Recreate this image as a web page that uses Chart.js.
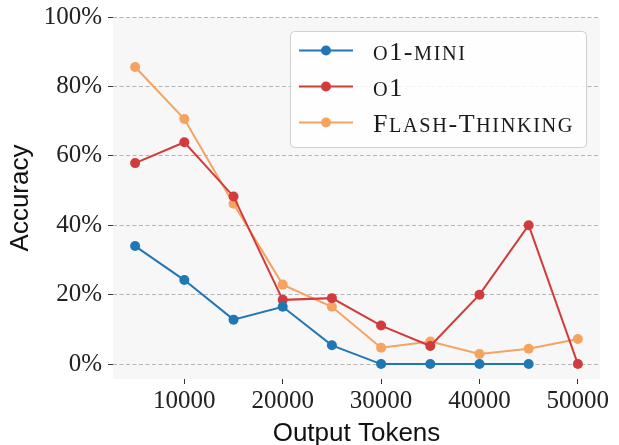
<!DOCTYPE html>
<html>
<head>
<meta charset="utf-8">
<script src="https://cdn.jsdelivr.net/npm/chart.js@4/dist/chart.umd.min.js"></script>
<style>
html,body{margin:0;padding:0;background:#fff;}
#c{display:block;}
</style>
</head>
<body>
<canvas id="c" width="619" height="445"></canvas>
<script>
const tokens = [5000, 10000, 15000, 20000, 25000, 30000, 35000, 40000, 45000, 50000];
const o1mini = [34.0, 24.2, 12.8, 16.5, 5.4, 0, 0, 0, 0];
const o1 = [57.9, 63.9, 48.3, 18.5, 19.0, 11.1, 5.2, 20.0, 40.0, 0];
const flash = [85.6, 70.6, 46.2, 22.9, 16.5, 4.7, 6.5, 2.9, 4.4, 7.2];
const seriesNames = ['o1-mini', 'o1', 'Flash-Thinking'];
const yTicks = [0, 20, 40, 60, 80, 100];
const xTicks = [10000, 20000, 30000, 40000, 50000];

const colors = ['#1f77b4', '#d13b3b', '#f4a460'];

function pts(arr){ return arr.map((v,i)=>({x:tokens[i], y:v})); }

const bgPlugin = {
  id:'bg',
  beforeDraw(chart){
    const {ctx, chartArea:a} = chart;
    ctx.save();
    ctx.fillStyle = '#f7f7f7';
    ctx.fillRect(a.left, a.top, a.right-a.left, a.bottom-a.top);
    ctx.restore();
  }
};

function drawSC(ctx, text, x, y, size, ratio, spacing){
  let cx = x;
  for (const ch of text){
    const isLower = ch !== ch.toUpperCase();
    const s = isLower ? size*ratio : size;
    ctx.font = s + 'px "Liberation Serif"';
    const c = isLower ? ch.toUpperCase() : ch;
    ctx.fillText(c, cx, y);
    cx += ctx.measureText(c).width + spacing;
  }
  return cx - x;
}

const legendPlugin = {
  id:'customLegend',
  afterDraw(chart){
    const ctx = chart.ctx;
    const bx = 290, by = 31, bw = 296, bh = 116, r = 4;
    ctx.save();
    ctx.beginPath();
    ctx.roundRect(bx+0.5, by+0.5, bw, bh, r);
    ctx.fillStyle = 'rgba(255,255,255,0.85)';
    ctx.fill();
    ctx.strokeStyle = '#d0d0d0';
    ctx.lineWidth = 1;
    ctx.stroke();
    const rows = [50.5, 86.5, 122.5];
    chart.data.datasets.forEach((ds, i) => {
      const yy = rows[i];
      ctx.strokeStyle = ds.borderColor;
      ctx.lineWidth = 2;
      ctx.beginPath();
      ctx.moveTo(299, yy); ctx.lineTo(353, yy);
      ctx.stroke();
      ctx.fillStyle = ds.borderColor;
      ctx.beginPath();
      ctx.arc(326, yy, 5, 0, Math.PI*2);
      ctx.fill();
      ctx.fillStyle = '#1a1a1a';
      ctx.textBaseline = 'alphabetic';
      ctx.textAlign = 'left';
      drawSC(ctx, ds.label, 373, yy+9, 26, 0.78, 1.6);
    });
    ctx.restore();
  }
};

new Chart(document.getElementById('c'), {
  type:'line',
  data:{
    datasets:[
      {label:seriesNames[0], data:pts(o1mini), borderColor:colors[0], backgroundColor:colors[0]},
      {label:seriesNames[1], data:pts(o1), borderColor:colors[1], backgroundColor:colors[1]},
      {label:seriesNames[2], data:pts(flash), borderColor:colors[2], backgroundColor:colors[2]}
    ]
  },
  options:{
    responsive:false,
    animation:false,
    devicePixelRatio:1,
    layout:{padding:{top:17, right:19, left:0, bottom:0}},
    elements:{
      line:{borderWidth:2, tension:0},
      point:{radius:5, borderWidth:0, hoverRadius:5}
    },
    plugins:{legend:{display:false}, tooltip:{enabled:false}},
    scales:{
      x:{
        type:'linear', min:2750, max:52250,
        afterBuildTicks(s){ s.ticks = xTicks.map(v=>({value:v})); },
        afterFit(s){ s.height = 66; s.paddingLeft = 0; s.paddingRight = 0; },
        grid:{drawOnChartArea:false, drawTicks:true, tickLength:5, tickColor:'#333', tickWidth:1},
        border:{display:false},
        ticks:{padding:2, color:'#222', font:{family:'"Liberation Serif"', size:25}, callback:v=>String(v), maxRotation:0, autoSkip:false},
        title:{display:true, text:'Output Tokens', color:'#111', font:{family:'"Liberation Sans"', size:26, lineHeight:1.0}, padding:{top:0,bottom:-2}}
      },
      y:{
        type:'linear', min:-4.3, max:100,
        afterBuildTicks(s){ s.ticks = yTicks.map(v=>({value:v})); },
        afterFit(s){ s.width = 113; s.paddingTop = 0; s.paddingBottom = 0; },
        grid:{color:'#b5b5b5', lineWidth:1, drawTicks:true, tickLength:5, tickColor:'#333', tickWidth:1},
        border:{display:false, dash:[4,2.5]},
        ticks:{padding:6, color:'#222', font:{family:'"Liberation Serif"', size:25}, callback:v=>v+'%', autoSkip:false},
        title:{display:true, text:'Accuracy', color:'#111', font:{family:'"Liberation Sans"', size:26}, padding:{top:5,bottom:4}}
      }
    }
  },
  plugins:[bgPlugin, legendPlugin]
});
</script>
</body>
</html>
